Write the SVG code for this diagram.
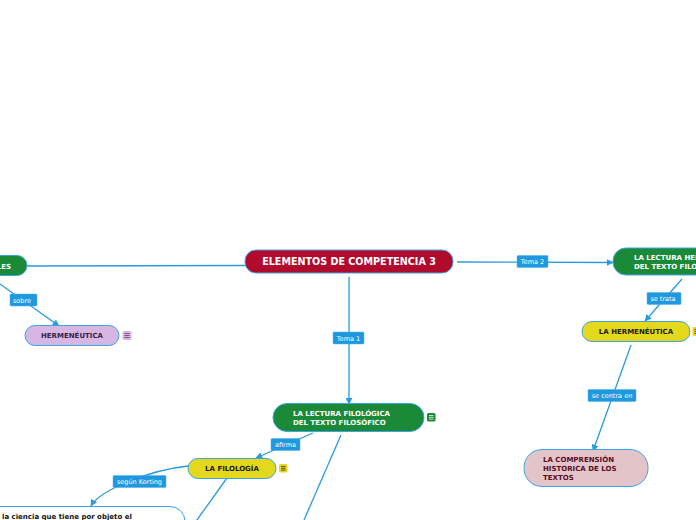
<svg xmlns="http://www.w3.org/2000/svg" width="696" height="520" viewBox="0 0 696 520">
<defs>
<style>
.ln{fill:none;stroke:#2a9ae0;stroke-width:1.3}
.lb rect{fill:#1f98e0;stroke:#4fb0ec;stroke-width:0.5}
.lb text{font-family:"DejaVu Sans",Verdana,sans-serif;font-size:6.5px;fill:#ffffff;text-anchor:middle}
.nd{stroke:#3ea3e6;stroke-width:1}
.t{font-family:"DejaVu Sans",Verdana,sans-serif;font-weight:bold}
.ic{stroke-width:0.8}
</style>
<marker id="ar" viewBox="0 0 10 10" refX="9" refY="5" markerWidth="7" markerHeight="7" orient="auto" markerUnits="userSpaceOnUse">
<path d="M0,0 L10,5 L0,10 z" fill="#2a9ae0"/>
</marker>
</defs>
<rect width="696" height="520" fill="#ffffff"/>
<g id="connectors">
<path class="ln" d="M27,266 L245,265.5"/>
<path class="ln" d="M0,284 L59,326" marker-end="url(#ar)"/>
<path class="ln" d="M349,277 L349,404" marker-end="url(#ar)"/>
<path class="ln" d="M457,262 L613,262.5" marker-end="url(#ar)"/>
<path class="ln" d="M682,279 L645,321" marker-end="url(#ar)"/>
<path class="ln" d="M631,345 L593,451" marker-end="url(#ar)"/>
<path class="ln" d="M313,433 L256,458" marker-end="url(#ar)"/>
<path class="ln" d="M188,466 C150,470 100,490 91,506" marker-end="url(#ar)"/>
<path class="ln" d="M227,478 L197,520"/>
<path class="ln" d="M341,435 L304,520"/>
<g class="lb"><rect x="10" y="294" width="27" height="12" rx="1"/><text x="22" y="302.5">sobre</text></g>
<g class="lb"><rect x="333" y="332" width="31" height="12" rx="1"/><text x="348.5" y="340.5">Tema 1</text></g>
<g class="lb"><rect x="517" y="255.5" width="31" height="12" rx="1"/><text x="532.5" y="264">Tema 2</text></g>
<g class="lb"><rect x="647" y="292.5" width="34" height="12" rx="1"/><text x="663" y="301">se trata</text></g>
<g class="lb"><rect x="588" y="389.5" width="48" height="12" rx="1"/><text x="612" y="398">se centra en</text></g>
<g class="lb"><rect x="271" y="438.5" width="29" height="12" rx="1"/><text x="285.5" y="447">afirma</text></g>
<g class="lb"><rect x="113" y="475.5" width="53" height="12" rx="1"/><text x="139.5" y="484">según Korting</text></g>
</g>
<g id="center">
<rect class="nd" x="245" y="250" width="208" height="23" rx="11" fill="#b00a2d"/>
<text class="t" x="349" y="265" font-size="9.6" fill="#ffffff" text-anchor="middle">ELEMENTOS DE COMPETENCIA 3</text>
</g>
<g id="left-node">
<rect class="nd" x="-60" y="255.5" width="87" height="20" rx="10" fill="#1a8a38"/>
<text class="t" x="11" y="268.5" font-size="7" fill="#ffffff" text-anchor="end">LES</text>
</g>
<g id="hermeneutica-left">
<rect class="nd" x="25" y="325.5" width="94" height="20" rx="10" fill="#d6b6e2"/>
<text class="t" x="72" y="338" font-size="7" fill="#3b1d47" text-anchor="middle">HERMENÉUTICA</text>
<rect class="ic" x="122.5" y="331" width="9" height="9" rx="1.5" fill="#d6b6e2"/>
<path d="M124.5,333.5h5M124.5,335.5h5M124.5,337.5h5" stroke="#6b4a7a" stroke-width="0.9"/>
</g>
<g id="lectura-hermeneutica">
<rect class="nd" x="613" y="248" width="120" height="27" rx="13" fill="#1a8a38"/>
<text class="t" x="634" y="260" font-size="7" fill="#ffffff">LA LECTURA HERMENÉUTICA</text>
<text class="t" x="634" y="269" font-size="7" fill="#ffffff">DEL TEXTO FILOSÓFICO</text>
</g>
<g id="la-hermeneutica">
<rect class="nd" x="582" y="321.5" width="108" height="20" rx="10" fill="#e3d81c"/>
<text class="t" x="636" y="334" font-size="7" fill="#1a1a1a" text-anchor="middle">LA HERMENÉUTICA</text>
<rect x="692.5" y="327" width="9" height="9" rx="1.5" fill="#e3d81c"/>
<path d="M694.5,329.5h5M694.5,331.5h5M694.5,333.5h5" stroke="#4a4a10" stroke-width="0.9"/>
</g>
<g id="comprension">
<rect class="nd" x="524" y="449.5" width="124" height="37" rx="18" fill="#e3c4c9"/>
<text class="t" x="543" y="462" font-size="7" fill="#5a0c1e">LA COMPRENSIÓN</text>
<text class="t" x="543" y="471" font-size="7" fill="#5a0c1e">HISTORICA DE LOS</text>
<text class="t" x="543" y="479.5" font-size="7" fill="#5a0c1e">TEXTOS</text>
</g>
<g id="lectura-filologica">
<rect class="nd" x="273" y="403.5" width="151" height="28" rx="14" fill="#1a8a38"/>
<text class="t" x="293" y="416" font-size="7" fill="#ffffff">LA LECTURA FILOLÓGICA</text>
<text class="t" x="293" y="424.5" font-size="7" fill="#ffffff">DEL TEXTO FILOSÓFICO</text>
<rect x="427" y="413" width="8.5" height="8.5" rx="1.5" fill="#1a8a38"/>
<path d="M429,415.5h4.5M429,417.3h4.5M429,419.1h4.5" stroke="#d8f0d8" stroke-width="0.9"/>
</g>
<g id="filologia">
<rect class="nd" x="188" y="458.5" width="88" height="20" rx="10" fill="#e3d81c"/>
<text class="t" x="232" y="471" font-size="7" fill="#1a1a1a" text-anchor="middle">LA FILOLOGÍA</text>
<rect x="279" y="464" width="8.5" height="8.5" rx="1.5" fill="#e3d81c"/>
<path d="M281,466.5h4.5M281,468.3h4.5M281,470.1h4.5" stroke="#4a4a10" stroke-width="0.9"/>
</g>
<g id="ciencia">
<rect class="nd" x="-30" y="506.5" width="215" height="40" rx="15" fill="#ffffff"/>
<text class="t" x="2" y="519" font-size="7" fill="#111111">la ciencia que tiene por objeto el</text>
</g>
</svg>
